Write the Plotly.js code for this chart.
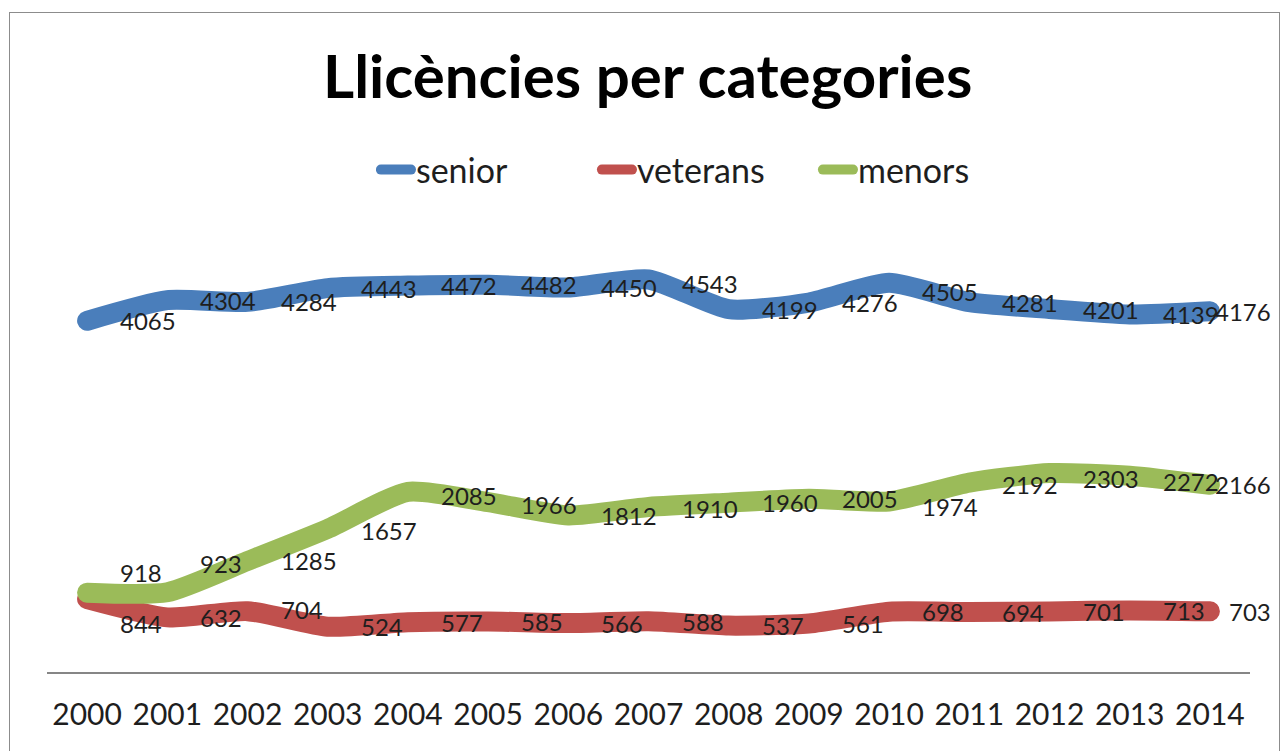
<!DOCTYPE html>
<html>
<head>
<meta charset="utf-8">
<script src="https://cdn.plot.ly/plotly-3.0.1.min.js"></script>
<style>
  html, body { margin: 0; padding: 0; background: #ffffff; }
  #wrap { position: relative; width: 1285px; height: 751px; }
  #chart { width: 1285px; height: 751px; }
  #chart path.js-line { stroke-linecap: round !important; stroke-linejoin: round !important; }
  #frame { position: absolute; left: 9px; top: 12px; width: 1271px; height: 740px;
           border: 1px solid #8c8c8c; box-sizing: border-box; pointer-events: none; }
</style>
</head>
<body>
<div id="wrap">
  <div id="chart"></div>
  <div id="frame"></div>
</div>
<script>
// ---- data ----
const years = ['2000','2001','2002','2003','2004','2005','2006','2007','2008','2009','2010','2011','2012','2013','2014'];
const senior   = [4065, 4304, 4284, 4443, 4472, 4482, 4450, 4543, 4199, 4276, 4505, 4281, 4201, 4139, 4176];
const veterans = [844, 632, 704, 524, 577, 585, 566, 588, 537, 561, 698, 694, 701, 713, 703];
const menors   = [918, 923, 1285, 1657, 2085, 1966, 1812, 1910, 1960, 2005, 1974, 2192, 2303, 2272, 2166];
const seriesNames = ['senior', 'veterans', 'menors'];

// ---- styling (kept apart from the data) ----
const colors = ['#4a7ebb', '#c0504d', '#9bbb59'];
// vertical nudges (px, up positive) for the data labels, as placed in the reference
const labelShift = {
  senior:   [0, 0, 0, 0, 0, 0, 0, -4, 0, 0, -9, 0, 0, 0, 0],
  veterans: [-24, 0, 2, 0, 0, 0, 0, 0, 0, 0, 0, 0, 0, 0, 0],
  menors:   [20, 29, 0, -2, -4, -2, 0, -2, 0, 0, -5, -2, -5, -6, 0]
};
const labelFont = { family: 'Lato, "Liberation Sans", sans-serif', size: 24, color: '#1e1e1e' };

const seriesValues = [senior, veterans, menors];
const traces = seriesValues.map((vals, i) => ({
  type: 'scatter',
  mode: 'lines',
  name: seriesNames[i],
  x: years,
  y: vals,
  line: { color: colors[i], width: 20, shape: 'spline', smoothing: 0.6 },
  hoverinfo: 'x+y+name'
}));

const annotations = [];
seriesValues.forEach((vals, i) => {
  const shifts = labelShift[seriesNames[i]];
  vals.forEach((v, j) => {
    const last = j === vals.length - 1;
    annotations.push({
      x: j, y: v, xref: 'x', yref: 'y',
      text: String(v), showarrow: false,
      xanchor: last ? 'right' : 'left', yanchor: 'middle',
      xshift: last ? 63 : 31, yshift: shifts[j],
      font: labelFont
    });
  });
});

const layout = {
  width: 1285, height: 751,
  margin: { l: 47, r: 35, t: 240, b: 79 },
  paper_bgcolor: '#ffffff', plot_bgcolor: '#ffffff',
  title: {
    text: 'Llicències per categories',
    font: { family: 'Lato, "Liberation Sans", sans-serif', size: 60, color: '#000000', weight: 'bold' },
    x: 0.504, xanchor: 'center', xref: 'container',
    y: 0.898, yanchor: 'middle', yref: 'container'
  },
  showlegend: true,
  legend: {
    orientation: 'h', x: 0.549, xanchor: 'center', y: 1.162, yanchor: 'middle',
    font: { family: 'Lato, "Liberation Sans", sans-serif', size: 34, color: '#1e1e1e' },
    itemwidth: 30, entrywidthmode: 'pixels', entrywidth: 176,
    traceorder: 'normal', bgcolor: 'rgba(0,0,0,0)'
  },
  xaxis: {
    type: 'category', range: [-0.5, 14.5], autorange: false,
    showline: true, linecolor: '#868686', linewidth: 2,
    showgrid: false, zeroline: false, ticks: '',
    ticklabelstandoff: 15,
    tickfont: { family: 'Lato, "Liberation Sans", sans-serif', size: 30, color: '#1e1e1e' },
    fixedrange: true
  },
  yaxis: {
    range: [0, 5000], autorange: false, visible: false, showgrid: false, zeroline: false, fixedrange: true
  },
  annotations: annotations
};

Plotly.newPlot('chart', traces, layout, { displayModeBar: false, staticPlot: true });
</script>
</body>
</html>
